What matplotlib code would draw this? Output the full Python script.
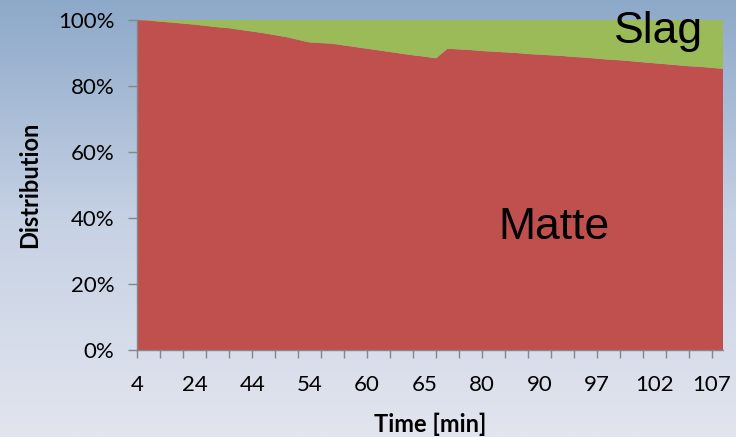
import numpy as np
import matplotlib
matplotlib.use("Agg")
import matplotlib.pyplot as plt
from matplotlib.colors import LinearSegmentedColormap

# ---- data ----
time_labels = ["4", "24", "44", "54", "60", "65", "80", "90", "97", "102", "107"]
matte = [100.0, 99.8, 99.5, 99.2, 98.9, 98.6, 98.2, 97.8, 97.5, 97.0,
         96.5, 96.0, 95.4, 94.8, 94.0, 93.2, 93.0, 92.8, 92.3, 91.8,
         91.3, 90.8, 90.3, 89.8, 89.3, 88.9, 88.4, 91.3, 91.1, 90.9,
         90.6, 90.4, 90.2, 90.0, 89.7, 89.5, 89.3, 89.1, 88.8, 88.6,
         88.3, 88.0, 87.8, 87.5, 87.2, 86.9, 86.6, 86.3, 86.0, 85.8,
         85.5, 85.2]
slag = [100.0 - m for m in matte]
series_names = ["Matte", "Slag"]
y_ticks = [0, 20, 40, 60, 80, 100]

matte_frac = np.array(matte) / 100.0
slag_frac = np.array(slag) / 100.0
idx = np.arange(len(matte))

plt.rcParams["font.family"] = ["Lato", "DejaVu Sans"]

W, H = 736, 437
fig = plt.figure(figsize=(W / 100, H / 100), dpi=100)

# background gradient
bg = fig.add_axes([0, 0, 1, 1], zorder=-10)
cmap = LinearSegmentedColormap.from_list(
    "bg", [(0.0, (141/255, 169/255, 201/255)),
           (0.5, (198/255, 209/255, 228/255)),
           (1.0, (226/255, 229/255, 238/255))])
grad = np.linspace(0, 1, 256).reshape(-1, 1)
bg.imshow(grad, aspect="auto", cmap=cmap, extent=[0, 1, 0, 1], origin="upper")
bg.set_axis_off()

left, right, top, bottom = 137.3, 723.3, 20.0, 350.0
ax = fig.add_axes([left / W, 1 - bottom / H, (right - left) / W, (bottom - top) / H])
ax.patch.set_alpha(0)

ax.stackplot(idx, matte_frac, slag_frac, colors=["#C0504D", "#9BBB59"],
             linewidth=0, zorder=2)

ax.set_xlim(0, len(matte) - 1)
ax.set_ylim(0, 1)

gray = "#868686"
ax.set_yticks([v / 100 for v in y_ticks])
ax.set_yticklabels([f"{v}%" for v in y_ticks], fontsize=16)
ax.yaxis.grid(True, color=gray, linewidth=0.8, zorder=0)
ax.set_axisbelow(True)

ax.xaxis.remove_overlapping_locs = False
ax.set_xticks(np.arange(0, len(matte), 2))
ax.set_xticklabels([])
ax.set_xticks(np.arange(0, len(matte), 5), minor=True)
ax.set_xticklabels(time_labels, minor=True, fontsize=16)
ax.tick_params(axis="x", which="major", length=6, width=1, color=gray, direction="out")
ax.tick_params(axis="x", which="minor", length=0, pad=18)
ax.tick_params(axis="y", length=6.5, width=1, color=gray, pad=10)

for s in ["top", "right"]:
    ax.spines[s].set_visible(False)
for s in ["left", "bottom"]:
    ax.spines[s].set_color(gray)
    ax.spines[s].set_linewidth(1)
    ax.spines[s].set_zorder(3)

ax.set_xlabel("Time [min]", fontsize=17, fontweight="bold", labelpad=13)
ax.set_ylabel("Distribution", fontsize=17, fontweight="bold", labelpad=12)

fig.text(554 / W, 1 - 239 / H, series_names[0], fontsize=32, family="Liberation Sans",
         ha="center", va="baseline", color="black")
fig.text(658 / W, 1 - 43 / H, series_names[1], fontsize=32, family="Liberation Sans",
         ha="center", va="baseline", color="black")

fig.savefig("out.png", dpi=100)
